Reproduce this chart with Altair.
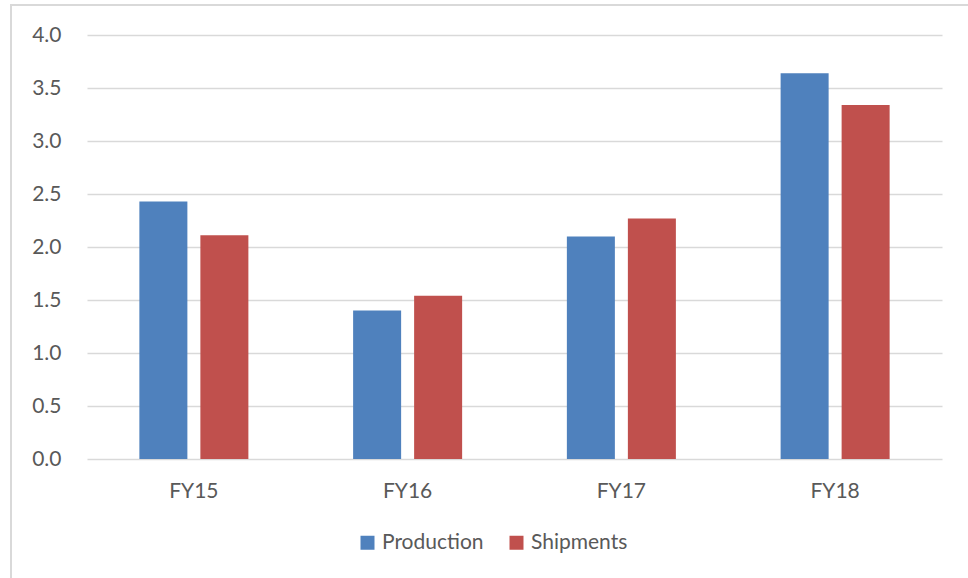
import altair as alt
import pandas as pd

years = ["FY15", "FY16", "FY17", "FY18"]
series = ["Production", "Shipments"]
production = [2.43, 1.40, 2.10, 3.64]
shipments = [2.11, 1.54, 2.27, 3.34]
y_ticks = [0.0, 0.5, 1.0, 1.5, 2.0, 2.5, 3.0, 3.5, 4.0]
colors = ["#4F81BD", "#C0504D"]

rows = []
for i, yr in enumerate(years):
    rows.append({"Year": yr, "Series": "Production", "Value": production[i]})
    rows.append({"Year": yr, "Series": "Shipments", "Value": shipments[i]})
df = pd.DataFrame(rows)

FONT = "Lato"
TXT = "#595959"
GRID = "#d9d9d9"

bars = alt.Chart(df).mark_bar().encode(
    x=alt.X("Year:N", sort=years, title=None,
            scale=alt.Scale(paddingInner=0.49, paddingOuter=0.245),
            axis=alt.Axis(labelAngle=0, ticks=False, domain=False, grid=False,
                          labelPadding=21, labelFontSize=21, labelColor=TXT,
                          labelFont=FONT)),
    xOffset=alt.XOffset("Series:N", sort=series,
                        scale=alt.Scale(paddingInner=0.213, paddingOuter=0)),
    y=alt.Y("Value:Q", title=None, scale=alt.Scale(domain=[0, 4], nice=False),
            axis=alt.Axis(values=y_ticks, format=".1f", ticks=False, domain=False,
                          grid=True, gridColor=GRID, gridWidth=1.5,
                          labelPadding=26, labelFontSize=21, labelColor=TXT,
                          labelFont=FONT)),
    color=alt.Color("Series:N", scale=alt.Scale(domain=series, range=colors),
                    legend=alt.Legend(orient="none", legendX=270, legendY=497,
                                      direction="horizontal", title=None,
                                      symbolType="square", symbolSize=196,
                                      symbolStrokeWidth=0, labelFontSize=21,
                                      labelFont=FONT, labelColor=TXT,
                                      labelOffset=4, columnPadding=22, padding=0)),
)

border = alt.Chart(pd.DataFrame({"a": [0]})).mark_rect(
    fillOpacity=0, stroke=GRID, strokeWidth=2
).encode(
    x=alt.value(-76), x2=alt.value(1000), y=alt.value(-30), y2=alt.value(700)
)

chart = alt.layer(border, bars).properties(
    width=855, height=424,
    padding={"left": 87, "top": 35, "right": 26, "bottom": 119},
    autosize="none",
).configure_view(strokeWidth=0)

chart.save("out.html", embed_options={"renderer": "svg", "actions": False})
